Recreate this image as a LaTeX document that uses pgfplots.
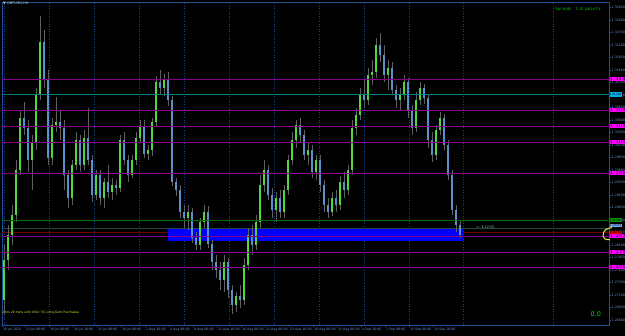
\documentclass[border=0pt]{standalone}
\usepackage{fontspec}
\setmainfont{DejaVu Sans}
\setmonofont{DejaVu Sans Mono}
\usepackage{pgfplots}
\usepackage{pgfplotstable}
\pgfplotsset{compat=1.18}
\definecolor{axblue}{RGB}{30,80,150}
\definecolor{gridc}{RGB}{22,68,150}
\definecolor{lbl}{RGB}{110,150,210}
\definecolor{wick}{RGB}{95,95,95}
\definecolor{upc}{RGB}{80,215,60}
\definecolor{dnc}{RGB}{90,145,205}
\definecolor{lvl}{RGB}{135,0,140}
\definecolor{lvlbox}{RGB}{255,0,255}
\definecolor{tealc}{RGB}{0,125,130}
\definecolor{grnl}{RGB}{0,110,0}
\definecolor{redl}{RGB}{120,0,0}
\definecolor{darkl}{RGB}{40,70,70}
\definecolor{yel}{RGB}{235,235,60}

\pgfplotstableread{
x o h l c
4 1.2700 1.2810 1.2670 1.2780
8 1.2780 1.2850 1.2760 1.2830
12 1.2830 1.2890 1.2810 1.2870
16 1.2870 1.2980 1.2856 1.2960
20 1.2960 1.3080 1.2950 1.3064
24 1.3064 1.3096 1.3030 1.3044
28 1.3044 1.3060 1.2956 1.2980
32 1.2980 1.3030 1.2920 1.3016
36 1.3016 1.3124 1.3000 1.3110
40 1.3110 1.3268 1.3100 1.3216
44 1.3216 1.3240 1.3124 1.3140
48 1.3140 1.3160 1.2970 1.2984
52 1.2984 1.3064 1.2970 1.3050
56 1.3050 1.3106 1.3036 1.3056
60 1.3056 1.3080 1.3020 1.3044
64 1.3044 1.3060 1.2920 1.2950
68 1.2950 1.2960 1.2884 1.2904
72 1.2904 1.2980 1.2890 1.2970
76 1.2970 1.3036 1.2960 1.3020
80 1.3020 1.3030 1.2956 1.2970
84 1.2970 1.3040 1.2960 1.3024
88 1.3024 1.3084 1.2970 1.2980
92 1.2980 1.2990 1.2896 1.2910
96 1.2910 1.2960 1.2900 1.2950
100 1.2950 1.2960 1.2890 1.2904
104 1.2904 1.2944 1.2884 1.2936
108 1.2936 1.2970 1.2904 1.2916
112 1.2916 1.2944 1.2900 1.2930
116 1.2930 1.2940 1.2910 1.2924
120 1.2924 1.3030 1.2916 1.3020
124 1.3020 1.3036 1.2970 1.2980
128 1.2980 1.2990 1.2936 1.2950
132 1.2950 1.2990 1.2944 1.2980
136 1.2980 1.3036 1.2970 1.3024
140 1.3024 1.3060 1.3016 1.3048
144 1.3048 1.3060 1.2984 1.2992
148 1.2992 1.3010 1.2980 1.3000
152 1.3000 1.3064 1.2988 1.3056
156 1.3056 1.3148 1.3048 1.3136
160 1.3136 1.3160 1.3110 1.3124
164 1.3124 1.3152 1.3108 1.3140
168 1.3140 1.3156 1.3088 1.3100
172 1.3100 1.3108 1.2928 1.2936
176 1.2936 1.2944 1.2908 1.2920
180 1.2920 1.2930 1.2864 1.2876
184 1.2876 1.2890 1.2844 1.2864
188 1.2864 1.2890 1.2840 1.2876
192 1.2876 1.2884 1.2814 1.2824
196 1.2824 1.2836 1.2800 1.2810
200 1.2810 1.2864 1.2800 1.2856
204 1.2856 1.2890 1.2844 1.2876
208 1.2876 1.2888 1.2804 1.2812
212 1.2812 1.2820 1.2760 1.2776
216 1.2776 1.2790 1.2744 1.2760
220 1.2760 1.2776 1.2720 1.2740
224 1.2740 1.2790 1.2716 1.2776
228 1.2776 1.2784 1.2704 1.2720
232 1.2720 1.2730 1.2672 1.2690
236 1.2690 1.2716 1.2676 1.2708
240 1.2708 1.2730 1.2684 1.2700
244 1.2700 1.2784 1.2690 1.2770
248 1.2770 1.2844 1.2760 1.2830
252 1.2830 1.2850 1.2790 1.2810
256 1.2810 1.2870 1.2800 1.2856
260 1.2856 1.2950 1.2844 1.2930
264 1.2930 1.2980 1.2916 1.2960
268 1.2960 1.2970 1.2900 1.2910
272 1.2910 1.2924 1.2864 1.2880
276 1.2880 1.2916 1.2856 1.2904
280 1.2904 1.2920 1.2864 1.2876
284 1.2876 1.2930 1.2864 1.2920
288 1.2920 1.2990 1.2910 1.2980
292 1.2980 1.3036 1.2970 1.3020
296 1.3020 1.3060 1.3004 1.3050
300 1.3050 1.3064 1.3016 1.3030
304 1.3030 1.3040 1.2980 1.2990
308 1.2990 1.3016 1.2970 1.3000
312 1.3000 1.3010 1.2944 1.2956
316 1.2956 1.2990 1.2940 1.2980
320 1.2980 1.2990 1.2916 1.2930
324 1.2930 1.2940 1.2876 1.2890
328 1.2890 1.2904 1.2864 1.2876
332 1.2876 1.2916 1.2868 1.2904
336 1.2904 1.2920 1.2876 1.2890
340 1.2890 1.2948 1.2880 1.2936
344 1.2936 1.2956 1.2904 1.2920
348 1.2920 1.2970 1.2910 1.2960
352 1.2960 1.3060 1.2950 1.3044
356 1.3044 1.3084 1.3030 1.3070
360 1.3070 1.3124 1.3060 1.3110
364 1.3110 1.3140 1.3084 1.3100
368 1.3100 1.3164 1.3090 1.3150
372 1.3150 1.3180 1.3130 1.3156
376 1.3156 1.3224 1.3144 1.3210
380 1.3210 1.3234 1.3176 1.3190
384 1.3190 1.3210 1.3136 1.3150
388 1.3150 1.3180 1.3120 1.3164
392 1.3164 1.3176 1.3110 1.3120
396 1.3120 1.3130 1.3084 1.3100
400 1.3100 1.3124 1.3080 1.3110
404 1.3110 1.3150 1.3100 1.3136
408 1.3136 1.3144 1.3064 1.3080
412 1.3080 1.3090 1.3030 1.3044
416 1.3044 1.3116 1.3036 1.3100
420 1.3100 1.3136 1.3090 1.3124
424 1.3124 1.3132 1.3092 1.3104
428 1.3104 1.3112 1.3004 1.3020
432 1.3020 1.3036 1.2976 1.2990
436 1.2990 1.3050 1.2980 1.3040
440 1.3040 1.3076 1.3030 1.3064
444 1.3064 1.3072 1.3000 1.3010
448 1.3010 1.3020 1.2940 1.2950
452 1.2950 1.2960 1.2870 1.2880
456 1.2880 1.2890 1.2836 1.2850
460 1.2850 1.2860 1.2824 1.2830
}\candles

\begin{document}
\begin{tikzpicture}
\useasboundingbox (0,0) rectangle (625bp,336bp);
\fill[black] (0,0) rectangle (625bp,336bp);
\begin{axis}[
  at={(2bp,11bp)}, anchor=south west, scale only axis,
  width=607bp, height=323bp,
  xmin=2, xmax=609, ymin=1.2650, ymax=1.3296,
  clip=false,
  axis line style={draw=axblue, line width=0.8bp},
  ytick pos=right, xtick pos=bottom,
  tick align=outside, major tick length=2bp,
  tick style={draw=axblue, line width=0.5bp},
  scaled y ticks=false,
  ytick={1.2660,1.2685,1.2710,1.2735,1.2760,1.2785,1.2810,1.2835,1.2860,1.2885,1.2910,1.2935,1.2960,1.2985,1.3010,1.3035,1.3060,1.3085,1.3110,1.3135,1.3160,1.3185,1.3210,1.3235,1.3260,1.3285},
  yticklabel style={font=\fontsize{3.2}{4}\selectfont, color=lbl, inner sep=0.5bp,
    /pgf/number format/fixed, /pgf/number format/fixed zerofill,
    /pgf/number format/precision=5, /pgf/number format/assume math mode=true},
  xtick={2,25,49,73,97,121,145,169,193,217,241,265,289,313,337,361,385,409,433},
  xticklabels={10 Jul 2023,13 Jul 08:00,18 Jul 00:00,20 Jul 16:00,25 Jul 08:00,28 Jul 00:00,1 Aug 16:00,4 Aug 08:00,9 Aug 00:00,11 Aug 16:00,16 Aug 08:00,21 Aug 00:00,23 Aug 16:00,28 Aug 08:00,31 Aug 00:00,4 Sep 16:00,7 Sep 08:00,12 Sep 00:00,14 Sep 16:00},
  xticklabel style={font=\fontsize{3.2}{4}\selectfont, color=lbl, anchor=north west, inner sep=0.6bp, xshift=0.3bp},
]
% vertical dotted grid
\pgfplotsinvokeforeach{4,49,94,139,184,229,274,319,364,409,463,553}{
  \addplot[gridc, dotted, line width=0.6bp, forget plot] coordinates {(#1,1.2650) (#1,1.3296)};
}
% background levels
\addplot[redl, line width=0.6bp, forget plot] coordinates {(2,1.28354) (609,1.28354)};
\addplot[darkl, line width=0.6bp, forget plot] coordinates {(2,1.28434) (609,1.28434)};
% blue zone
\addplot[fill=blue, draw=none, forget plot] coordinates {(168,1.28186) (463,1.28186) (463,1.28420) (168,1.28420)} -- cycle;
% wicks
\addplot[draw=none, forget plot, error bars/.cd, y dir=both, y explicit, error mark=none,
  error bar style={draw=wick, line width=0.8bp}]
  table[x=x, y expr={(\thisrow{h}+\thisrow{l})/2}, y error expr={(\thisrow{h}-\thisrow{l})/2}] {\candles};
% up bodies
\addplot[draw=none, forget plot, error bars/.cd, y dir=both, y explicit, error mark=none,
  error bar style={draw=upc, line width=1.8bp, line cap=butt}]
  table[x=x, y expr={(\thisrow{o}+\thisrow{c})/2}, y error expr={max(\thisrow{c}-\thisrow{o},0)/2}] {\candles};
% down bodies
\addplot[draw=none, forget plot, error bars/.cd, y dir=both, y explicit, error mark=none,
  error bar style={draw=dnc, line width=1.8bp, line cap=butt}]
  table[x=x, y expr={(\thisrow{o}+\thisrow{c})/2}, y error expr={max(\thisrow{o}-\thisrow{c},0)/2}] {\candles};
% levels on top
\pgfplotsinvokeforeach{1.31414,1.30800,1.30474,1.30154,1.29534,1.28280,1.27954,1.27654}{
  \addplot[lvl, line width=0.6bp, forget plot] coordinates {(2,#1) (609,#1)};
}
\addplot[tealc, line width=0.8bp, forget plot] coordinates {(2,1.31106) (609,1.31106)};
\addplot[grnl, line width=0.6bp, forget plot] coordinates {(2,1.28600) (609,1.28600)};
% price boxes
\pgfplotsinvokeforeach{1.31414,1.30800,1.30474,1.30154,1.29534,1.28280,1.27954,1.27654}{
  \node[fill=lvlbox, anchor=west, inner sep=0.3bp, font=\fontsize{2.8}{3.2}\selectfont, text=black, minimum height=4.4bp] at (axis cs:609.3,#1) {\pgfmathprintnumber[fixed,fixed zerofill,precision=5]{#1}};
}
\node[fill=cyan, anchor=west, inner sep=0.3bp, font=\fontsize{2.8}{3.2}\selectfont, text=black, minimum height=4.4bp] at (axis cs:609.3,1.31106) {1.31106};
\node[fill=green!60!black, anchor=west, inner sep=0.3bp, font=\fontsize{2.8}{3.2}\selectfont, text=black, minimum height=4.2bp] at (axis cs:609.3,1.28600) {1.28600};
\node[fill={rgb,255:red,120;green,180;blue,255}, anchor=west, inner sep=0.3bp, font=\fontsize{2.8}{3.2}\selectfont, text=black, minimum height=3.4bp] at (axis cs:609.3,1.28492) {1.28434};
\node[fill=red!90!black, anchor=west, inner sep=0.3bp, font=\fontsize{2.8}{3.2}\selectfont, text=black, minimum height=3.4bp] at (axis cs:609.3,1.28352) {1.28354};
\end{axis}
% annotations
\node[anchor=west, inner sep=0, text={rgb,255:red,190;green,200;blue,230}, font=\fontsize{3.6}{4}\selectfont] at (3bp,333bp) {▼ GBPUSD,H4};
\node[anchor=west, inner sep=0, text={rgb,255:red,0;green,200;blue,0}, font=\ttfamily\fontsize{4.2}{5}\selectfont] at (555bp,327bp) {Spread: 1.8 points};
\node[anchor=west, inner sep=0, text=yel, font=\fontsize{3.1}{4}\selectfont] at (2bp,23.3bp) {2 hrs 20 mins until USD: TIC Long-Term Purchases};
\node[anchor=west, inner sep=0, text={rgb,255:red,0;green,230;blue,0}, font=\fontsize{6.5}{7}\selectfont] at (590.5bp,21.7bp) {0.0};
\node[anchor=west, inner sep=0, text={rgb,255:red,120;green,220;blue,140}, font=\fontsize{3.4}{4}\selectfont] at (476bp,109bp) {<- 3:12:55};
\draw[yel, line width=1bp] (603bp,100bp) .. controls (603bp,106bp) and (607bp,108bp) .. (612bp,108.3bp);
\draw[yel, line width=1bp] (603bp,100bp) .. controls (603bp,97.5bp) and (605bp,96.3bp) .. (610bp,96.2bp);
\end{tikzpicture}
\end{document}
